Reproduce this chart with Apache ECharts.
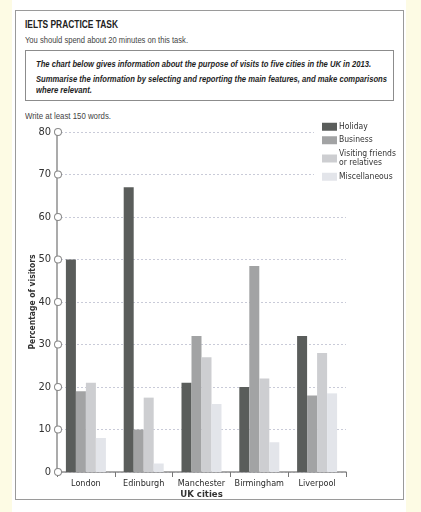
<!DOCTYPE html>
<html>
<head>
<meta charset="utf-8">
<script src="https://cdn.jsdelivr.net/npm/echarts@6/dist/echarts.min.js"></script>
<style>
    html, body {
        margin: 0;
        padding: 0;
        width: 421px;
        height: 512px;
        overflow: hidden;
        background: linear-gradient(to right, #fdfbe4 0, #fdfbe4 12px, #ffffff 12px, #ffffff 406px, #fdfbe4 406px);
        font-family: 'Liberation Sans', Arial, sans-serif;
        color: #2b2b2b;
    }
    #panel {
        position: absolute;
        left: 15px;
        top: 10px;
        width: 387px;
        height: 488px;
        border: 1px solid #9a9a9a;
        background: #fff;
    }
    .abs { position: absolute; white-space: nowrap; transform-origin: 0 50%; line-height: 12px; }
    #title { left: 25px; top: 18px; font-size: 11.5px; font-weight: bold; color: #222; }
    #spend { left: 25px; top: 34px; font-size: 9.5px; color: #444; }
    #box {
        position: absolute;
        left: 25px; top: 50px; width: 367px; height: 49px;
        border: 1px solid #8c8c8c;
    }
    .task { font-size: 9.5px; font-weight: bold; font-style: italic; color: #1e1e1e; }
    #write { left: 25px; top: 110px; font-size: 9.5px; color: #444; }
    #chart {
        position: absolute;
        left: 0;
        top: 0;
        width: 421px;
        height: 512px;
    }
</style>
</head>
<body>
<div id="panel"></div>
<div id="box"></div>
<div class="abs" id="title" data-w="93">IELTS PRACTICE TASK</div>
<div class="abs" id="spend" data-w="163">You should spend about 20 minutes on this task.</div>
<div class="abs task" style="left:36px;top:58px" data-w="335">The chart below gives information about the purpose of visits to five cities in the UK in 2013.</div>
<div class="abs task" style="left:36px;top:73px" data-w="351">Summarise the information by selecting and reporting the main features, and make comparisons</div>
<div class="abs task" style="left:36px;top:84px" data-w="56">where relevant.</div>
<div class="abs" id="write" data-w="86">Write at least 150 words.</div>
<div id="chart"></div>

<script>
    // squeeze the header lines to the widths they have in the scan
    document.querySelectorAll('[data-w]').forEach(function(el) {
        let w = el.getBoundingClientRect().width
        el.style.transform = 'scaleX(' + (el.dataset.w / w) + ')'
    })

    // data
    const cities = ['London', 'Edinburgh', 'Manchester', 'Birmingham', 'Liverpool'];
    const holiday = [50, 67, 21, 20, 32];
    const business = [19, 10, 32, 48.5, 18];
    const visiting = [21, 17.5, 27, 22, 28];
    const misc = [8, 2, 16, 7, 18.5];
    const seriesNames = ['Holiday', 'Business', 'Visiting friends\nor relatives', 'Miscellaneous'];
    const yMin = 0, yMax = 80, yStep = 10;

    const narrow = "'Liberation Sans Narrow', 'DejaVu Sans Condensed', sans-serif";
    const colorList = ['#5a5d5b', '#a2a3a4', '#cdced1', '#e3e5ea'];

    let myChart = echarts.init(document.getElementById('chart'), null, {renderer: 'canvas'});

    function bar(name, data, i) {
        return {
            name: name,
            type: 'bar',
            data: data,
            barWidth: 10,
            barGap: '0%',
            itemStyle: {color: colorList[i]}
        }
    }

    let option = {
        backgroundColor: 'transparent',
        animation: false,
        textStyle: {fontFamily: narrow},
        grid: {
            left: 57,
            right: 75,
            top: 132,
            bottom: 40
        },
        legend: {
            orient: 'vertical',
            left: 314,
            top: 120,
            padding: [2, 4, 4, 8],
            backgroundColor: '#fff',
            itemWidth: 15,
            itemHeight: 8,
            itemGap: 4,
            icon: 'rect',
            data: seriesNames,
            textStyle: {
                fontFamily: narrow,
                fontSize: 8.5,
                color: '#333',
                lineHeight: 9.5,
                padding: [0, 0, 0, -3]
            }
        },
        xAxis: {
            type: 'category',
            data: cities,
            name: 'UK cities',
            nameLocation: 'middle',
            nameGap: 18,
            nameMoveOverlap: false,
            nameTextStyle: {fontFamily: narrow, fontSize: 9.5, fontWeight: 'bold', color: '#333'},
            axisLine: {lineStyle: {color: '#8f8f8f', width: 1.5}},
            axisTick: {show: true, length: 5, lineStyle: {color: '#777'}},
            axisLabel: {interval: 0, fontFamily: narrow, fontSize: 9, color: '#2a2a2a', margin: 7}
        },
        yAxis: {
            type: 'value',
            min: yMin,
            max: yMax,
            interval: yStep,
            name: 'Percentage of visitors',
            nameLocation: 'middle',
            nameGap: 20,
            nameMoveOverlap: false,
            nameTextStyle: {fontFamily: narrow, fontSize: 8.5, fontWeight: 'bold', color: '#333'},
            axisLine: {show: true, lineStyle: {color: '#8f8f8f', width: 1.5}},
            axisTick: {show: false},
            splitLine: {lineStyle: {color: '#c9cbd8', type: [2, 2], width: 1}},
            axisLabel: {
                margin: -4,
                formatter: function(value) {
                    return '{n|' + value + '}{s|}{c|}';
                },
                rich: {
                    n: {fontFamily: narrow, fontSize: 11, color: '#333', verticalAlign: 'middle'},
                    s: {width: 4},
                    c: {
                        width: 6,
                        height: 6,
                        borderRadius: 4,
                        borderColor: '#8a8a8a',
                        borderWidth: 1,
                        backgroundColor: '#fff',
                        verticalAlign: 'middle'
                    }
                }
            }
        },
        series: [
            bar(seriesNames[0], holiday, 0),
            bar(seriesNames[1], business, 1),
            bar(seriesNames[2], visiting, 2),
            bar(seriesNames[3], misc, 3)
        ]
    }
    myChart.setOption(option)
</script>
</body>
</html>
